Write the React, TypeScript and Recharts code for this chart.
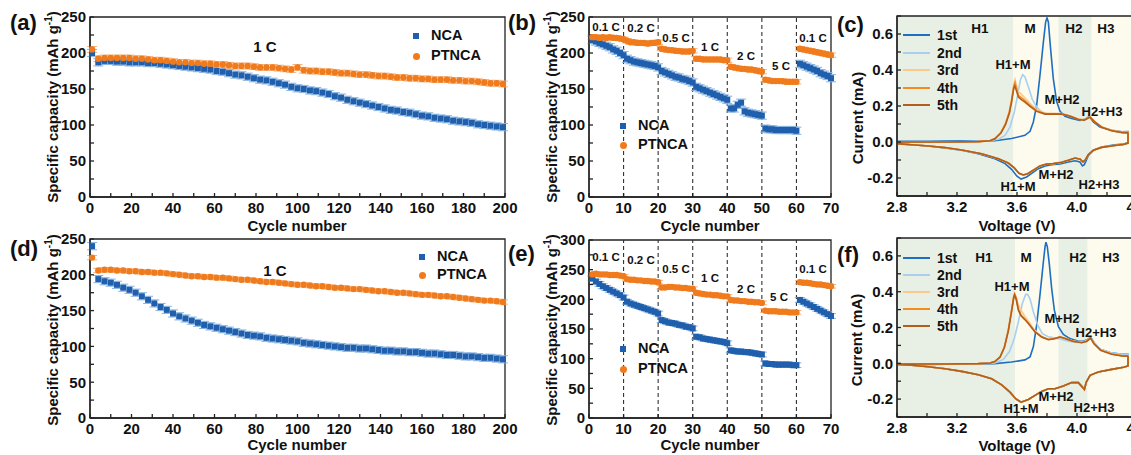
import React from 'react';
import {
  ScatterChart, Scatter, LineChart, Line,
  XAxis, YAxis, ErrorBar, ReferenceLine, ReferenceArea
} from 'recharts';

const FONT = '"Liberation Sans", Arial, Helvetica, sans-serif';
const AXIS = '#222';
const NCA_BLUE = '#1f5fad';
const NCA_ERR = '#86b4e0';
const PT_ORANGE = '#f07b1d';
const PT_ERR = '#f6b07a';

// long-term cycling at 1 C, a point every 3rd cycle
const longCycles = [
  1, 4, 7, 10, 13, 16, 19, 22, 25, 28,
  31, 34, 37, 40, 43, 46, 49, 52, 55, 58,
  61, 64, 67, 70, 73, 76, 79, 82, 85, 88,
  91, 94, 97, 100, 103, 106, 109, 112, 115, 118,
  121, 124, 127, 130, 133, 136, 139, 142, 145, 148,
  151, 154, 157, 160, 163, 166, 169, 172, 175, 178,
  181, 184, 187, 190, 193, 196, 199
];

const ncaA = [
  200, 187, 189, 189, 188, 188, 187, 187, 187, 186,
  186, 185, 184, 183, 182, 181, 180, 179, 178, 177,
  175, 174, 172, 170, 169, 167, 165, 163, 162, 160,
  158, 156, 153, 151, 150, 148, 147, 145, 143, 140,
  138, 135, 133, 131, 129, 127, 125, 123, 121, 120,
  118, 117, 115, 113, 112, 110, 109, 108, 106, 105,
  104, 103, 101, 100, 99, 98, 97
];
const ptA = [
  205, 192, 193, 193, 193, 193, 193, 192, 192, 191,
  190, 190, 189, 188, 187, 187, 186, 186, 185, 185,
  184, 184, 183, 182, 182, 182, 181, 180, 180, 180,
  179, 178, 177, 180, 176, 175, 175, 174, 174, 173,
  172, 172, 171, 170, 170, 169, 168, 168, 167, 166,
  166, 165, 165, 164, 164, 163, 163, 163, 162, 162,
  161, 161, 160, 159, 158, 158, 157
];
const ncaD = [
  240, 194, 191, 189, 186, 182, 179, 175, 170, 165,
  160, 155, 151, 146, 142, 139, 136, 133, 130, 128,
  126, 124, 122, 120, 118, 116, 115, 114, 112, 111,
  110, 109, 108, 107, 105, 104, 103, 102, 101, 100,
  99, 98, 98, 97, 97, 96, 95, 94, 94, 93,
  93, 92, 92, 91, 90, 90, 89, 88, 88, 87,
  86, 86, 85, 84, 84, 83, 82
];
const ptD = [
  224, 206, 207, 207, 206, 206, 205, 205, 204, 204,
  203, 203, 202, 201, 200, 199, 198, 198, 197, 197,
  196, 196, 195, 194, 193, 193, 192, 191, 190, 190,
  189, 188, 187, 186, 186, 185, 184, 184, 183, 182,
  182, 181, 180, 180, 179, 178, 177, 177, 176, 175,
  175, 174, 173, 172, 172, 171, 170, 170, 169, 168,
  167, 166, 165, 164, 164, 163, 162
];

// rate capability, one point per cycle
const rateCycles = [
  1, 2, 3, 4, 5, 6, 7, 8, 9, 10,
  11, 12, 13, 14, 15, 16, 17, 18, 19, 20,
  21, 22, 23, 24, 25, 26, 27, 28, 29, 30,
  31, 32, 33, 34, 35, 36, 37, 38, 39, 40,
  41, 42, 43, 44, 45, 46, 47, 48, 49, 50,
  51, 52, 53, 54, 55, 56, 57, 58, 59, 60,
  61, 62, 63, 64, 65, 66, 67, 68, 69, 70
];
const rateSteps = [10, 20, 30, 40, 50, 60];
const rateNames = ['0.1 C', '0.2 C', '0.5 C', '1 C', '2 C', '5 C', '0.1 C'];

const ncaB = [
  218, 216, 214, 212, 210, 208, 205, 203, 200, 197,
  192, 190, 188, 187, 186, 185, 184, 183, 182, 180,
  175, 173, 171, 169, 167, 166, 164, 163, 161, 159,
  153, 151, 149, 147, 145, 143, 141, 139, 137, 135,
  123, 123, 128, 131, 119, 117, 116, 115, 114, 113,
  95, 94, 94, 93, 93, 93, 93, 93, 93, 92,
  185, 183, 181, 179, 177, 175, 172, 170, 168, 165
];
const ptB = [
  222, 222, 221, 222, 221, 222, 221, 221, 220, 219,
  217, 215, 215, 214, 214, 214, 213, 214, 214, 215,
  206, 205, 204, 204, 203, 203, 202, 202, 202, 203,
  192, 192, 191, 191, 191, 191, 191, 191, 190, 190,
  181, 180, 179, 178, 178, 177, 177, 176, 175, 174,
  163, 162, 161, 161, 161, 161, 160, 160, 160, 160,
  206, 205, 204, 203, 202, 201, 200, 199, 198, 197
];
const ncaE = [
  235, 230, 226, 222, 219, 216, 213, 210, 207, 203,
  196, 193, 191, 189, 187, 185, 183, 181, 179, 176,
  165, 163, 161, 160, 159, 157, 156, 154, 153, 151,
  137, 136, 134, 133, 132, 131, 130, 129, 128, 126,
  114, 113, 112, 112, 111, 111, 110, 109, 108, 107,
  92, 91, 91, 90, 90, 90, 90, 90, 89, 89,
  199, 196, 193, 190, 187, 184, 181, 178, 175, 172
];
const ptE = [
  242, 243, 242, 242, 242, 241, 241, 241, 240, 239,
  234, 233, 233, 232, 232, 231, 231, 230, 230, 229,
  220, 220, 221, 221, 220, 220, 219, 219, 218, 218,
  211, 210, 209, 208, 208, 207, 207, 206, 205, 205,
  199, 198, 198, 197, 197, 196, 196, 195, 195, 194,
  181, 180, 180, 180, 179, 179, 179, 178, 178, 178,
  229, 228, 228, 227, 226, 225, 225, 224, 223, 222
];

// CV curves, [voltage V, current mA]
const cAn1 = [
  [2.8, 0.004], [3.009, 0.004], [3.231, 0.006], [3.453, 0.007], [3.564, 0.019], [3.653, 0.037],
  [3.687, 0.059], [3.709, 0.111], [3.731, 0.204], [3.753, 0.37], [3.776, 0.556], [3.791, 0.667],
  [3.8, 0.689], [3.809, 0.667], [3.822, 0.537], [3.842, 0.352], [3.864, 0.226], [3.887, 0.17],
  [3.92, 0.143], [3.964, 0.13], [4.02, 0.12], [4.053, 0.126], [4.082, 0.143], [4.109, 0.111],
  [4.153, 0.083], [4.231, 0.065], [4.3, 0.057], [4.34, 0.058]
];
const cCat1 = [
  [4.34, 0.052], [4.34, -0.004], [4.31, -0.011], [4.253, -0.015], [4.164, -0.028], [4.109, -0.046],
  [4.076, -0.074], [4.049, -0.126], [4.036, -0.133], [4.02, -0.111], [3.987, -0.104], [3.942, -0.111],
  [3.887, -0.122], [3.831, -0.126], [3.787, -0.133], [3.742, -0.148], [3.698, -0.174], [3.664, -0.194],
  [3.627, -0.206], [3.598, -0.189], [3.564, -0.152], [3.52, -0.12], [3.453, -0.093], [3.342, -0.065],
  [3.231, -0.046], [3.12, -0.033], [3.009, -0.022], [2.898, -0.015], [2.8, -0.011]
];
const cAn2 = [
  [2.8, 0], [3.009, 0], [3.231, 0.002], [3.409, 0.006], [3.476, 0.015], [3.52, 0.037],
  [3.553, 0.083], [3.582, 0.167], [3.604, 0.259], [3.622, 0.343], [3.638, 0.374], [3.653, 0.361],
  [3.676, 0.306], [3.702, 0.237], [3.731, 0.194], [3.764, 0.167], [3.809, 0.156], [3.876, 0.156],
  [3.92, 0.152], [3.987, 0.133], [4.042, 0.12], [4.087, 0.139], [4.12, 0.111], [4.164, 0.083],
  [4.231, 0.065], [4.3, 0.053], [4.34, 0.052]
];
const cAn3 = [
  [2.8, 0], [3.12, 0], [3.342, 0.002], [3.42, 0.008], [3.453, 0.02], [3.493, 0.054],
  [3.524, 0.106], [3.549, 0.172], [3.564, 0.24], [3.578, 0.318], [3.587, 0.346], [3.598, 0.31],
  [3.609, 0.278], [3.627, 0.267], [3.653, 0.244], [3.687, 0.215], [3.731, 0.18], [3.787, 0.16],
  [3.842, 0.159], [3.898, 0.158], [3.953, 0.146], [4.009, 0.128], [4.049, 0.124], [4.087, 0.141],
  [4.12, 0.113], [4.164, 0.085], [4.231, 0.065], [4.3, 0.055], [4.34, 0.054]
];
const cAn4 = [
  [2.8, 0], [3.12, 0], [3.342, 0.002], [3.42, 0.007], [3.453, 0.019], [3.493, 0.052],
  [3.524, 0.102], [3.549, 0.167], [3.564, 0.231], [3.578, 0.306], [3.587, 0.33], [3.598, 0.293],
  [3.609, 0.259], [3.627, 0.248], [3.653, 0.23], [3.687, 0.204], [3.731, 0.174], [3.787, 0.157],
  [3.842, 0.157], [3.898, 0.157], [3.953, 0.144], [4.009, 0.126], [4.049, 0.122], [4.087, 0.139],
  [4.12, 0.111], [4.164, 0.083], [4.231, 0.063], [4.3, 0.053], [4.34, 0.052]
];
const cAn5 = [
  [2.8, 0], [3.12, 0], [3.342, 0.002], [3.42, 0.007], [3.453, 0.018], [3.493, 0.05],
  [3.524, 0.098], [3.549, 0.16], [3.564, 0.222], [3.578, 0.298], [3.585, 0.311], [3.598, 0.28],
  [3.609, 0.25], [3.627, 0.237], [3.653, 0.222], [3.687, 0.198], [3.731, 0.17], [3.787, 0.155],
  [3.842, 0.155], [3.898, 0.155], [3.953, 0.143], [4.009, 0.125], [4.049, 0.121], [4.087, 0.138],
  [4.12, 0.11], [4.164, 0.082], [4.231, 0.062], [4.3, 0.052], [4.34, 0.051]
];
const cCat = [
  [4.34, 0.052], [4.34, -0.006], [4.31, -0.013], [4.253, -0.019], [4.164, -0.03], [4.109, -0.046],
  [4.076, -0.07], [4.053, -0.102], [4.04, -0.111], [4.022, -0.096], [3.987, -0.089], [3.942, -0.102],
  [3.898, -0.113], [3.842, -0.12], [3.798, -0.122], [3.753, -0.133], [3.709, -0.156], [3.671, -0.176],
  [3.642, -0.183], [3.613, -0.174], [3.582, -0.144], [3.542, -0.117], [3.476, -0.093], [3.364, -0.065],
  [3.231, -0.044], [3.12, -0.031], [3.009, -0.022], [2.898, -0.015], [2.8, -0.009]
];

const fAn1 = [
  [2.8, -0.004], [3.009, -0.006], [3.231, -0.004], [3.453, -0.002], [3.564, 0.007], [3.653, 0.019],
  [3.687, 0.036], [3.709, 0.092], [3.731, 0.213], [3.753, 0.381], [3.776, 0.568], [3.787, 0.652],
  [3.793, 0.677], [3.802, 0.652], [3.816, 0.55], [3.831, 0.419], [3.849, 0.297], [3.876, 0.204],
  [3.909, 0.161], [3.953, 0.138], [4.009, 0.123], [4.042, 0.123], [4.071, 0.133], [4.091, 0.146],
  [4.113, 0.116], [4.153, 0.079], [4.22, 0.06], [4.3, 0.051], [4.34, 0.05]
];
const fAn2 = [
  [2.8, -0.004], [3.12, -0.004], [3.342, -0.002], [3.453, 0.002], [3.509, 0.022], [3.549, 0.064],
  [3.582, 0.138], [3.609, 0.232], [3.636, 0.335], [3.658, 0.385], [3.671, 0.385], [3.687, 0.359],
  [3.709, 0.288], [3.738, 0.213], [3.769, 0.166], [3.809, 0.148], [3.876, 0.138], [3.942, 0.123],
  [4.009, 0.116], [4.053, 0.123], [4.091, 0.142], [4.113, 0.116], [4.153, 0.079], [4.22, 0.06],
  [4.3, 0.051], [4.34, 0.05]
];
const fAn3 = [
  [2.8, -0.004], [3.12, -0.004], [3.342, -0.002], [3.42, 0.002], [3.453, 0.011], [3.487, 0.036],
  [3.516, 0.092], [3.542, 0.185], [3.564, 0.297], [3.578, 0.372], [3.584, 0.385], [3.596, 0.363],
  [3.609, 0.325], [3.631, 0.292], [3.653, 0.26], [3.682, 0.228], [3.72, 0.182], [3.764, 0.15],
  [3.809, 0.135], [3.849, 0.139], [3.887, 0.148], [3.924, 0.139], [3.976, 0.124], [4.031, 0.117],
  [4.064, 0.124], [4.091, 0.143], [4.113, 0.111], [4.158, 0.074], [4.231, 0.053], [4.3, 0.043],
  [4.34, 0.042]
];
const fAn4 = [
  [2.8, -0.004], [3.12, -0.004], [3.342, -0.002], [3.42, 0.002], [3.453, 0.011], [3.487, 0.036],
  [3.516, 0.092], [3.542, 0.185], [3.564, 0.297], [3.578, 0.372], [3.584, 0.389], [3.596, 0.363],
  [3.609, 0.303], [3.627, 0.269], [3.649, 0.25], [3.676, 0.224], [3.72, 0.176], [3.764, 0.148],
  [3.809, 0.133], [3.849, 0.138], [3.887, 0.148], [3.924, 0.138], [3.976, 0.123], [4.031, 0.116],
  [4.064, 0.123], [4.091, 0.142], [4.113, 0.11], [4.158, 0.073], [4.231, 0.052], [4.3, 0.042],
  [4.34, 0.041]
];
const fAn5 = [
  [2.8, -0.004], [3.12, -0.004], [3.342, -0.002], [3.42, 0.002], [3.453, 0.01], [3.487, 0.034],
  [3.516, 0.088], [3.542, 0.18], [3.564, 0.29], [3.578, 0.366], [3.584, 0.381], [3.596, 0.352],
  [3.609, 0.297], [3.627, 0.265], [3.649, 0.247], [3.676, 0.222], [3.72, 0.175], [3.764, 0.147],
  [3.809, 0.132], [3.849, 0.137], [3.887, 0.147], [3.924, 0.137], [3.976, 0.122], [4.031, 0.115],
  [4.064, 0.122], [4.091, 0.141], [4.113, 0.109], [4.158, 0.072], [4.231, 0.051], [4.3, 0.041],
  [4.34, 0.04]
];
const fCat = [
  [4.34, 0.041], [4.34, -0.015], [4.31, -0.022], [4.231, -0.034], [4.142, -0.049], [4.087, -0.067],
  [4.062, -0.105], [4.049, -0.146], [4.036, -0.133], [4.009, -0.108], [3.964, -0.108], [3.909, -0.127],
  [3.853, -0.142], [3.809, -0.142], [3.764, -0.157], [3.72, -0.179], [3.676, -0.202], [3.627, -0.217],
  [3.591, -0.198], [3.553, -0.161], [3.498, -0.12], [3.431, -0.086], [3.342, -0.064], [3.231, -0.045],
  [3.12, -0.03], [3.009, -0.019], [2.898, -0.011], [2.8, -0.007]
];

const cvNames = ['1st', '2nd', '3rd', '4th', '5th'];
const cvColors = ['#1f6fc0', '#a9cfee', '#fbc98c', '#f58a1f', '#b35f1c'];

// phase regions H1 / M / H2 / H3
const phasesC = [2.8, 3.576, 3.876, 4.098, 4.5];
const phasesF = [2.8, 3.587, 3.876, 4.071, 4.5];
const phaseFill = ['#e8f0e5', '#fcfbee', '#e8f0e5', '#fcfbee'];

const toPoints = (xs: number[], ys: number[], err: number) =>
  xs.map((x, i) => ({ x, y: ys[i], err }));
const toCurve = (pts: number[][]) => pts.map(([v, i]) => ({ v, i }));

const PAD_L = 50;
const PAD_T = 14;
const PAD_R = 22;
const PAD_B = 34;

type Box = { left: number; top: number; w: number; h: number };

const tickStyle = { fontSize: 15, fontWeight: 'bold', fill: '#111', fontFamily: FONT };

const squareMark = (props: any) => (
  <rect x={props.cx - 3} y={props.cy - 3} width={6} height={6} fill={NCA_BLUE} />
);
const circleMark = (props: any) => (
  <circle cx={props.cx} cy={props.cy} r={3.2} fill={PT_ORANGE} />
);

interface CapProps {
  box: Box;
  xMax: number;
  xTicks: number[];
  xMajor: number[];
  yMax: number;
  yTicks: number[];
  yMajor: number[];
  nca: { x: number; y: number; err: number }[];
  pt: { x: number; y: number; err: number }[];
  steps?: number[];
}

const CapacityChart = ({ box, xMax, xTicks, xMajor, yMax, yTicks, yMajor, nca, pt, steps }: CapProps) => (
  <div style={{ position: 'absolute', left: box.left - PAD_L, top: box.top - PAD_T }}>
    <ScatterChart
      width={box.w + PAD_L + PAD_R}
      height={box.h + PAD_T + PAD_B}
      margin={{ top: PAD_T, right: PAD_R, bottom: 0, left: 0 }}
    >
      <XAxis
        type="number" dataKey="x" domain={[0, xMax]} ticks={xTicks} interval={0}
        height={PAD_B} stroke={AXIS} strokeWidth={1.3} tickSize={-4} tickMargin={9}
        tick={tickStyle} tickFormatter={(v: number) => (xMajor.includes(v) ? String(v) : '')}
      />
      <YAxis
        type="number" dataKey="y" domain={[0, yMax]} ticks={yTicks} interval={0}
        width={PAD_L} stroke={AXIS} strokeWidth={1.3} tickSize={-4} tickMargin={8}
        tick={tickStyle} tickFormatter={(v: number) => (yMajor.includes(v) ? String(v) : '')}
      />
      {steps?.map(s => (
        <ReferenceLine key={s} x={s} stroke="#333" strokeWidth={1.1} strokeDasharray="4 3" />
      ))}
      <Scatter data={nca} shape={squareMark} isAnimationActive={false}>
        <ErrorBar dataKey="err" direction="y" width={5} stroke={NCA_ERR} strokeWidth={1} />
      </Scatter>
      <Scatter data={pt} shape={circleMark} isAnimationActive={false}>
        <ErrorBar dataKey="err" direction="y" width={5} stroke={PT_ERR} strokeWidth={1} />
      </Scatter>
      <ReferenceArea x1={0} x2={xMax} y1={0} y2={yMax} fill="none" stroke={AXIS} strokeWidth={1.3} />
    </ScatterChart>
  </div>
);

const vTicks = [2.8, 3.0, 3.2, 3.4, 3.6, 3.8, 4.0, 4.2, 4.4];
const vMajor = [2.8, 3.2, 3.6, 4.0, 4.4];
const iTicks = [-0.3, -0.2, -0.1, 0, 0.1, 0.2, 0.3, 0.4, 0.5, 0.6, 0.7];
const iMajor = [-0.2, 0, 0.2, 0.4, 0.6];

const CvChart = ({ box, curves, phases }: { box: Box; curves: { v: number; i: number }[][]; phases: number[] }) => (
  <div style={{ position: 'absolute', left: box.left - PAD_L, top: box.top - PAD_T }}>
    <LineChart
      width={box.w + PAD_L + PAD_R}
      height={box.h + PAD_T + PAD_B}
      margin={{ top: PAD_T, right: PAD_R, bottom: 0, left: 0 }}
    >
      <XAxis
        type="number" dataKey="v" domain={[2.8, 4.5]} ticks={vTicks} interval={0} allowDataOverflow
        height={PAD_B} stroke={AXIS} strokeWidth={1.3} tickSize={-4} tickMargin={9} tick={tickStyle}
        tickFormatter={(v: number) => (vMajor.some(m => Math.abs(m - v) < 1e-6) ? v.toFixed(1) : '')}
      />
      <YAxis
        type="number" domain={[-0.3, 0.7]} ticks={iTicks} interval={0} allowDataOverflow
        width={PAD_L} stroke={AXIS} strokeWidth={1.3} tickSize={-4} tickMargin={8} tick={tickStyle}
        tickFormatter={(v: number) => (iMajor.some(m => Math.abs(m - v) < 1e-6) ? v.toFixed(1) : '')}
      />
      {phaseFill.map((fill, k) => (
        <ReferenceArea key={k} x1={phases[k]} x2={phases[k + 1]} fill={fill} fillOpacity={1} stroke="none" />
      ))}
      {curves.map((d, k) => (
        <Line
          key={k} data={d} dataKey="i" type="linear" stroke={cvColors[k]} strokeWidth={1.6}
          dot={false} isAnimationActive={false}
        />
      ))}
      <ReferenceArea x1={2.8} x2={4.5} y1={-0.3} y2={0.7} fill="none" stroke={AXIS} strokeWidth={1.3} />
    </LineChart>
  </div>
);

const Txt = ({ x, y, size = 13, left = false, children }: { x: number; y: number; size?: number; left?: boolean; children: React.ReactNode }) => (
  <div
    style={{
      position: 'absolute', left: x, top: y,
      transform: left ? 'translate(0,-50%)' : 'translate(-50%,-50%)',
      fontSize: size, fontWeight: 'bold', fontFamily: FONT, lineHeight: 1,
      whiteSpace: 'nowrap', color: '#111'
    }}
  >
    {children}
  </div>
);

const VTxt = ({ x, y, children }: { x: number; y: number; children: React.ReactNode }) => (
  <div
    style={{
      position: 'absolute', left: x, top: y, transform: 'translate(-50%,-50%) rotate(-90deg)',
      fontSize: 15, fontWeight: 'bold', fontFamily: FONT, lineHeight: 1, whiteSpace: 'nowrap', color: '#111'
    }}
  >
    {children}
  </div>
);

const capTitle = (
  <>Specific capacity (mAh g<span style={{ fontSize: 10, position: 'relative', top: -6 }}>-1</span>)</>
);

const CapLegend = ({ x, y1, y2 }: { x: number; y1: number; y2: number }) => (
  <>
    <div style={{ position: 'absolute', left: x - 3, top: y1 - 3, width: 6, height: 6, background: NCA_BLUE }} />
    <Txt x={x + 15} y={y1 - 1} size={14.5} left>NCA</Txt>
    <div style={{ position: 'absolute', left: x - 3.5, top: y2 - 3.5, width: 7, height: 7, borderRadius: '50%', background: PT_ORANGE }} />
    <Txt x={x + 15} y={y2 - 1} size={14.5} left>PTNCA</Txt>
  </>
);

const CvLegend = ({ ys }: { ys: number[] }) => (
  <>
    {cvNames.map((n, k) => (
      <React.Fragment key={n}>
        <div style={{ position: 'absolute', left: 903, top: ys[k] - 1, width: 27, height: 2, background: cvColors[k] }} />
        <Txt x={937} y={ys[k]} size={14} left>{n}</Txt>
      </React.Fragment>
    ))}
  </>
);

const boxA: Box = { left: 90, top: 17, w: 415, h: 180 };
const boxB: Box = { left: 589, top: 17, w: 242, h: 180 };
const boxC: Box = { left: 897, top: 16, w: 255, h: 180 };
const boxD: Box = { left: 90, top: 239, w: 415, h: 179 };
const boxE: Box = { left: 589, top: 240, w: 242, h: 178 };
const boxF: Box = { left: 897, top: 238, w: 255, h: 179 };

const longTicks = [0, 10, 20, 30, 40, 50, 60, 70, 80, 90, 100, 110, 120, 130, 140, 150, 160, 170, 180, 190, 200];
const longMajor = [0, 20, 40, 60, 80, 100, 120, 140, 160, 180, 200];
const rateTicks = [0, 10, 20, 30, 40, 50, 60, 70];
const cap250 = [0, 25, 50, 75, 100, 125, 150, 175, 200, 225, 250];
const cap250Major = [0, 50, 100, 150, 200, 250];
const cap300 = [0, 25, 50, 75, 100, 125, 150, 175, 200, 225, 250, 275, 300];
const cap300Major = [0, 50, 100, 150, 200, 250, 300];

const rateLabelPosB = [[606, 28], [641, 29], [676, 39], [710, 48], [746, 57], [781, 67], [813, 39]];
const rateLabelPosE = [[606, 258], [641, 261], [676, 270], [710, 279], [746, 290], [779, 298], [813, 270]];

const phaseNames = ['H1', 'M', 'H2', 'H3'];
const peakNames = ['H1+M', 'M+H2', 'H2+H3', 'M+H2', 'H1+M', 'H2+H3'];
const phasePosC = [[980, 29], [1030, 29], [1074, 29], [1106, 29]];
const phasePosF = [[984, 258], [1026, 258], [1078, 258], [1111, 258]];
const peakPosC = [[1013, 64], [1062, 99], [1102, 111], [1056, 174], [1018, 186], [1099, 184]];
const peakPosF = [[1012, 286], [1062, 318], [1096, 332], [1056, 396], [1021, 408], [1094, 407]];

export default function App() {
  const curvesC = [
    toCurve([...cAn1, ...cCat1]),
    toCurve([...cAn2, ...cCat]),
    toCurve([...cAn3, ...cCat]),
    toCurve([...cAn4, ...cCat]),
    toCurve([...cAn5, ...cCat])
  ];
  const curvesF = [
    toCurve([...fAn1, ...fCat]),
    toCurve([...fAn2, ...fCat]),
    toCurve([...fAn3, ...fCat]),
    toCurve([...fAn4, ...fCat]),
    toCurve([...fAn5, ...fCat])
  ];

  return (
    <div style={{ position: 'fixed', left: 0, top: 0, width: 1131, height: 455, overflow: 'hidden', background: '#fff' }}>
      <CapacityChart
        box={boxA} xMax={200} xTicks={longTicks} xMajor={longMajor} yMax={250} yTicks={cap250} yMajor={cap250Major}
        nca={toPoints(longCycles, ncaA, 5)} pt={toPoints(longCycles, ptA, 4)}
      />
      <CapacityChart
        box={boxB} xMax={70} xTicks={rateTicks} xMajor={rateTicks} yMax={250} yTicks={cap250} yMajor={cap250Major}
        nca={toPoints(rateCycles, ncaB, 5)} pt={toPoints(rateCycles, ptB, 3)} steps={rateSteps}
      />
      <CvChart box={boxC} curves={curvesC} phases={phasesC} />
      <CapacityChart
        box={boxD} xMax={200} xTicks={longTicks} xMajor={longMajor} yMax={250} yTicks={cap250} yMajor={cap250Major}
        nca={toPoints(longCycles, ncaD, 5)} pt={toPoints(longCycles, ptD, 3)}
      />
      <CapacityChart
        box={boxE} xMax={70} xTicks={rateTicks} xMajor={rateTicks} yMax={300} yTicks={cap300} yMajor={cap300Major}
        nca={toPoints(rateCycles, ncaE, 4)} pt={toPoints(rateCycles, ptE, 3)} steps={rateSteps}
      />
      <CvChart box={boxF} curves={curvesF} phases={phasesF} />

      {/* panel letters */}
      <Txt x={10} y={23} size={22} left>(a)</Txt>
      <Txt x={508} y={23} size={22} left>(b)</Txt>
      <Txt x={837} y={25} size={22} left>(c)</Txt>
      <Txt x={10} y={249} size={22} left>(d)</Txt>
      <Txt x={508} y={254} size={22} left>(e)</Txt>
      <Txt x={837} y={255} size={22} left>(f)</Txt>

      {/* axis titles */}
      <VTxt x={52} y={107}>{capTitle}</VTxt>
      <VTxt x={551} y={107}>{capTitle}</VTxt>
      <VTxt x={52} y={330}>{capTitle}</VTxt>
      <VTxt x={551} y={330}>{capTitle}</VTxt>
      <VTxt x={857} y={118}>Current (mA)</VTxt>
      <VTxt x={856} y={340}>Current (mA)</VTxt>
      <Txt x={297} y={225} size={15}>Cycle number</Txt>
      <Txt x={710} y={225} size={15}>Cycle number</Txt>
      <Txt x={297} y={444} size={15}>Cycle number</Txt>
      <Txt x={710} y={444} size={15}>Cycle number</Txt>
      <Txt x={1017} y={225} size={15}>Voltage (V)</Txt>
      <Txt x={1017} y={445} size={15}>Voltage (V)</Txt>

      {/* annotations */}
      <Txt x={265} y={46} size={15}>1 C</Txt>
      <Txt x={275} y={270} size={15}>1 C</Txt>
      {rateNames.map((n, k) => <Txt key={'b' + k} x={rateLabelPosB[k][0]} y={rateLabelPosB[k][1]} size={11.5}>{n}</Txt>)}
      {rateNames.map((n, k) => <Txt key={'e' + k} x={rateLabelPosE[k][0]} y={rateLabelPosE[k][1]} size={11.5}>{n}</Txt>)}
      {phaseNames.map((n, k) => <Txt key={'pc' + k} x={phasePosC[k][0]} y={phasePosC[k][1]} size={13.5}>{n}</Txt>)}
      {phaseNames.map((n, k) => <Txt key={'pf' + k} x={phasePosF[k][0]} y={phasePosF[k][1]} size={13.5}>{n}</Txt>)}
      {peakNames.map((n, k) => <Txt key={'kc' + k} x={peakPosC[k][0]} y={peakPosC[k][1]} size={13}>{n}</Txt>)}
      {peakNames.map((n, k) => <Txt key={'kf' + k} x={peakPosF[k][0]} y={peakPosF[k][1]} size={13}>{n}</Txt>)}

      {/* legends */}
      <CapLegend x={416} y1={36} y2={56} />
      <CapLegend x={623} y1={126} y2={145} />
      <CapLegend x={422} y1={257} y2={275} />
      <CapLegend x={623} y1={349} y2={369} />
      <CvLegend ys={[35, 53, 70, 88, 105]} />
      <CvLegend ys={[258, 275, 292, 309, 326]} />
    </div>
  );
}
